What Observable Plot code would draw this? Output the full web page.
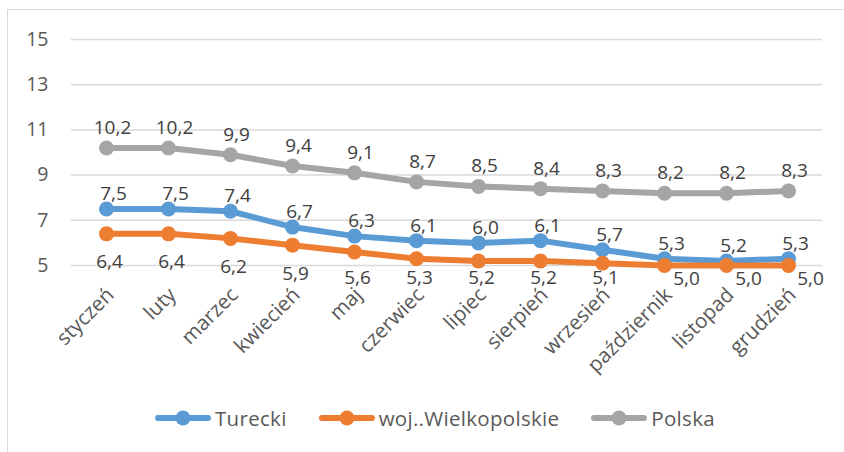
<!DOCTYPE html>
<html><head><meta charset="utf-8">
<script src="https://cdn.jsdelivr.net/npm/d3@7"></script>
<script src="https://cdn.jsdelivr.net/npm/@observablehq/plot@0.6"></script>
<style>
html,body{margin:0;padding:0;background:#fff;overflow:hidden;width:844px;height:452px;}
#wrap{position:relative;width:844px;height:452px;overflow:hidden;font-family:"Open Sans",sans-serif;}
#frame{position:absolute;left:7px;top:9px;width:900px;height:520px;border:1.5px solid #d9d9d9;box-sizing:border-box;}
#chart{position:absolute;left:0;top:0;}
#legend{position:absolute;left:155px;top:402px;height:32px;display:flex;align-items:center;font-size:20.5px;color:#595959;}
.item{display:flex;align-items:center;margin-right:32px;}
.item span{letter-spacing:0.3px;}
.item svg{margin-right:4px;}
</style>
</head><body>
<div id="wrap"><div id="frame"></div><div id="chart"></div><div id="legend"></div></div>
<script>
const months = ["styczeń","luty","marzec","kwiecień","maj","czerwiec","lipiec","sierpień","wrzesień","październik","listopad","grudzień"];
const turecki = [7.5,7.5,7.4,6.7,6.3,6.1,6.0,6.1,5.7,5.3,5.2,5.3];
const wielkopolskie = [6.4,6.4,6.2,5.9,5.6,5.3,5.2,5.2,5.1,5.0,5.0,5.0];
const polska = [10.2,10.2,9.9,9.4,9.1,8.7,8.5,8.4,8.3,8.2,8.2,8.3];
const seriesNames = ["Turecki","woj..Wielkopolskie","Polska"];
const seriesColors = ["#5B9BD5","#ED7D31","#A5A5A5"];
const yTicks = [5,7,9,11,13,15];
const shiftedLabels = ["październik","listopad","grudzień"];

const rows = (name, vals) => vals.map((v,i)=>({series:name, month:months[i], value:v}));
const tRows = rows(seriesNames[0], turecki);
const wRows = rows(seriesNames[1], wielkopolskie);
const pRows = rows(seriesNames[2], polska);
const fmt = d => d.value.toFixed(1).replace(".", ",");
const lab = {fill:"#404040", fontSize:19, fontFamily:"Open Sans"};

const seriesMarks = (data, color) => [
  Plot.line(data,{x:"month", y:"value", stroke:color, strokeWidth:6, strokeLinejoin:"round", strokeLinecap:"round"}),
  Plot.dot(data,{x:"month", y:"value", r:7.5, fill:color, stroke:"none"})
];

const chart = Plot.plot({
  width:844, height:390,
  marginLeft:71, marginRight:22, marginTop:39, marginBottom:125,
  style:{background:"transparent", fontFamily:"Open Sans"},
  x:{type:"point", domain:months, padding:0.5, axis:null},
  y:{domain:[5,15], axis:null},
  marks:[
    Plot.ruleY(yTicks,{stroke:"#d9d9d9", strokeWidth:1.5}),
    Plot.text(yTicks,{frameAnchor:"left", y:d=>d, text:d=>String(d), textAnchor:"end", dx:-23, fill:"#595959", fontSize:19.5}),
    Plot.text(months,{x:d=>d, frameAnchor:"bottom", text:d=>d, rotate:-45, textAnchor:"end", lineAnchor:"middle", dx:4, dy:26, fill:"#595959", fontSize:20.5}),
    ...seriesMarks(tRows, seriesColors[0]),
    ...seriesMarks(wRows, seriesColors[1]),
    ...seriesMarks(pRows, seriesColors[2]),
    Plot.text(tRows,{x:"month", y:"value", text:fmt, dx:7, dy:-15, ...lab}),
    Plot.text(pRows,{x:"month", y:"value", text:fmt, dx:6, dy:-20, ...lab}),
    Plot.text(wRows.filter(d=>!shiftedLabels.includes(d.month)),{x:"month", y:d=>Math.max(d.value-1.25, 4.47), text:fmt, dx:3, ...lab}),
    Plot.text(wRows.filter(d=>shiftedLabels.includes(d.month)),{x:"month", y:"value", text:fmt, dx:22, dy:13, ...lab})
  ]
});
document.getElementById("chart").appendChild(chart);

const legend = document.getElementById("legend");
seriesNames.forEach((name,i)=>{
  const item = document.createElement("div");
  item.className = "item";
  item.innerHTML = `<svg width="56" height="18"><line x1="3" y1="9" x2="53" y2="9" stroke="${seriesColors[i]}" stroke-width="6" stroke-linecap="round"/><circle cx="28" cy="9" r="7.5" fill="${seriesColors[i]}"/></svg><span>${name}</span>`;
  legend.appendChild(item);
});
</script>
</body></html>
